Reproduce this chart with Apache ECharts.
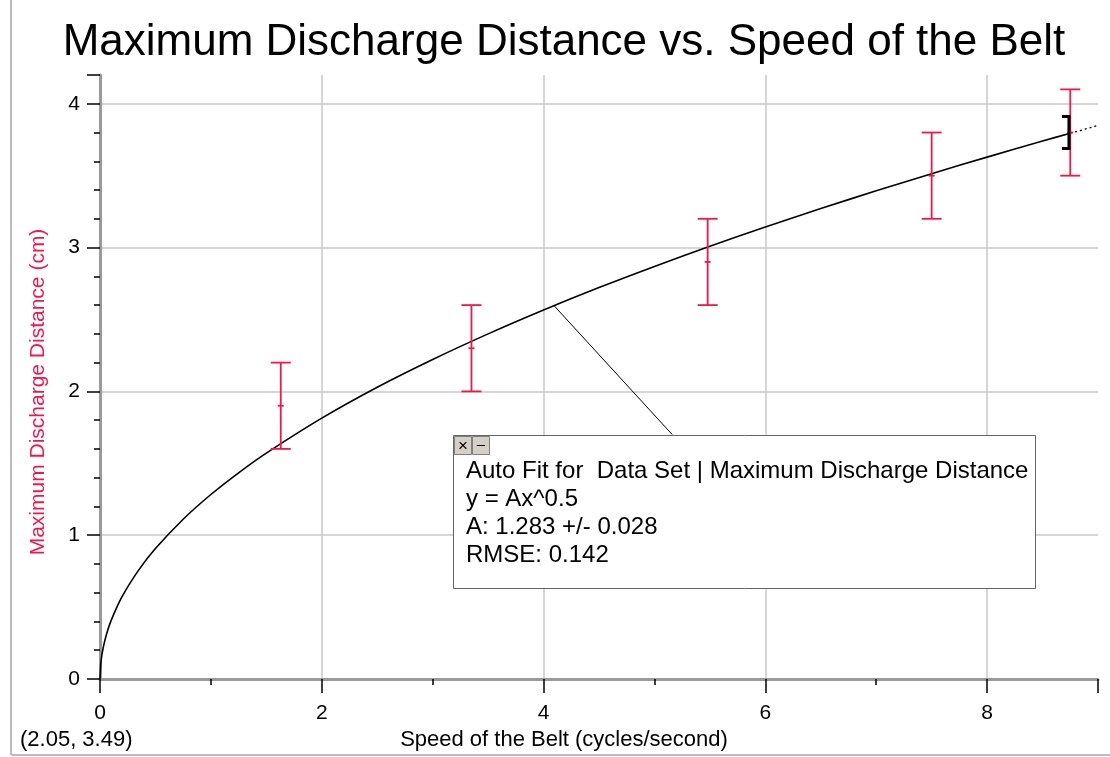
<!DOCTYPE html>
<html><head><meta charset="utf-8">
<script src="https://cdn.jsdelivr.net/npm/echarts@6/dist/echarts.min.js"></script>
<style>html,body{margin:0;padding:0;background:#fff}#c{width:1110px;height:757px}</style>
</head><body><div id="c"></div>
<script>
// Data
const speed = [1.63, 3.35, 5.48, 7.5, 8.75];
const distance = [1.9, 2.3, 2.9, 3.5, 3.8];
const errLow = [1.6, 2.0, 2.6, 3.2, 3.5];
const errHigh = [2.2, 2.6, 3.2, 3.8, 4.1];
// fitted curve (y = A x^0.5, A = 1.283)
const fitX = [0, 0.01, 0.03, 0.06, 0.1, 0.2, 0.35, 0.5, 0.75, 1, 1.25, 1.5, 2, 2.5, 3, 3.5, 4, 4.5, 5, 5.5, 6, 6.5, 7, 7.5, 8, 8.5, 8.75];
const fitY = [0, 0.128, 0.222, 0.314, 0.406, 0.574, 0.759, 0.907, 1.111, 1.283, 1.434, 1.571, 1.814, 2.029, 2.222, 2.400, 2.566, 2.722, 2.869, 3.009, 3.143, 3.271, 3.395, 3.514, 3.629, 3.741, 3.795];
const extX = [8.75, 9];
const extY = [3.795, 3.849];
const cursorPt = [8.72, 3.8];
const leaderX = [4.09, 5.16];
const leaderY = [2.6, 1.7];
const xTicks = [0, 2, 4, 6, 8];
const yTicks = [0, 1, 2, 3, 4];

const FONT = "'Liberation Sans', Arial, sans-serif";
const RED = '#f0174a';

const chart = echarts.init(document.getElementById('c'), null, {renderer: 'canvas'});
const zip = (a, b) => a.map((v, i) => [v, b[i]]);

chart.setOption({
  animation: false,
  backgroundColor: '#fff',
  grid: {left: 100, right: 12, top: 75, bottom: 78, containLabel: false},
  xAxis: {
    type: 'value', min: 0, max: 9, interval: 2,
    axisLine: {show: true, onZero: false, lineStyle: {color: '#999', width: 3}},
    axisTick: {show: true, length: 14, lineStyle: {color: '#000', width: 1.5}},
    minorTick: {show: true, splitNumber: 2, length: 6, lineStyle: {color: '#000', width: 1.5}},
    axisLabel: {fontFamily: FONT, fontSize: 21, color: '#000', margin: 24,
      formatter: v => xTicks.includes(v) ? String(v) : ''},
    splitLine: {show: true, showMinLine: false, showMaxLine: false, lineStyle: {color: '#c8c8c8', width: 1.5}}
  },
  yAxis: {
    type: 'value', min: 0, max: 4.2, interval: 1,
    axisLine: {show: true, onZero: false, lineStyle: {color: '#999', width: 3}},
    axisTick: {show: true, length: 13, lineStyle: {color: '#000', width: 1.5}},
    minorTick: {show: true, splitNumber: 5, length: 6, lineStyle: {color: '#000', width: 1.5}},
    axisLabel: {fontFamily: FONT, fontSize: 21, color: '#000', margin: 20,
      formatter: v => yTicks.includes(v) ? String(v) : ''},
    splitLine: {show: true, showMinLine: false, showMaxLine: false, lineStyle: {color: '#c8c8c8', width: 1.5}}
  },
  series: [
    {
      type: 'line', data: zip(fitX, fitY), smooth: 0.3, showSymbol: false, symbol: 'none',
      lineStyle: {color: '#000', width: 1.6}, z: 3
    },
    {
      type: 'line', data: zip(extX, extY), showSymbol: false, symbol: 'none',
      lineStyle: {color: '#000', width: 1.3, type: [2, 3]}, z: 3
    },
    {
      type: 'line', data: zip(leaderX, leaderY), showSymbol: false, symbol: 'none',
      lineStyle: {color: '#000', width: 1}, z: 3
    },
    {
      type: 'custom', z: 4,
      data: speed.map((x, i) => [x, distance[i], errLow[i], errHigh[i]]),
      renderItem: (params, api) => {
        const x = api.value(0);
        const c = api.coord([x, api.value(1)]);
        const lo = api.coord([x, api.value(2)]);
        const hi = api.coord([x, api.value(3)]);
        const st = {stroke: RED, lineWidth: 1.8};
        const cap = 10;
        return {type: 'group', children: [
          {type: 'line', shape: {x1: lo[0], y1: lo[1], x2: hi[0], y2: hi[1]}, style: st},
          {type: 'line', shape: {x1: lo[0] - cap, y1: lo[1], x2: lo[0] + cap, y2: lo[1]}, style: st},
          {type: 'line', shape: {x1: hi[0] - cap, y1: hi[1], x2: hi[0] + cap, y2: hi[1]}, style: st},
          {type: 'line', shape: {x1: c[0] - 3, y1: c[1], x2: c[0] + 3, y2: c[1]}, style: st}
        ]};
      }
    },
    {
      type: 'custom', z: 5,
      data: [cursorPt],
      renderItem: (params, api) => {
        const c = api.coord([api.value(0), api.value(1)]);
        const st = {stroke: '#000', lineWidth: 3};
        const h = 16;
        return {type: 'group', children: [
          {type: 'line', shape: {x1: c[0] + 2, y1: c[1] - h, x2: c[0] + 2, y2: c[1] + h}, style: st},
          {type: 'line', shape: {x1: c[0] - 5, y1: c[1] - h, x2: c[0] + 3.5, y2: c[1] - h}, style: st},
          {type: 'line', shape: {x1: c[0] - 5, y1: c[1] + h, x2: c[0] + 3.5, y2: c[1] + h}, style: st}
        ]};
      }
    }
  ],
  graphic: [
    {type: 'text', z: 102, x: 564, y: 43, style: {text: 'Maximum Discharge Distance vs. Speed of the Belt', fontFamily: FONT, fontSize: 44, fill: '#000', align: 'center', verticalAlign: 'middle'}},
    {type: 'text', z: 102, x: 38, y: 392, rotation: Math.PI / 2, style: {text: 'Maximum Discharge Distance (cm)', fontFamily: FONT, fontSize: 21, fill: RED, align: 'center', verticalAlign: 'middle'}},
    {type: 'line', z: 100, shape: {x1: 11, y1: 0, x2: 11, y2: 755}, style: {stroke: '#bbb', lineWidth: 2}},
    {type: 'line', z: 100, shape: {x1: 11, y1: 755, x2: 1110, y2: 755}, style: {stroke: '#bbb', lineWidth: 2}},
    {type: 'rect', z: 100, shape: {x: 453.5, y: 435.5, width: 582, height: 153},
      style: {fill: '#fff', stroke: '#666', lineWidth: 1}},
    {type: 'rect', z: 101, shape: {x: 454.5, y: 436.5, width: 17, height: 18},
      style: {fill: '#d4d0c8', stroke: '#808080', lineWidth: 1}},
    {type: 'rect', z: 101, shape: {x: 472.5, y: 436.5, width: 17, height: 18},
      style: {fill: '#d4d0c8', stroke: '#808080', lineWidth: 1}},
    {type: 'text', z: 102, x: 463, y: 446, style: {text: '×', fontFamily: FONT, fontSize: 17, fill: '#000', align: 'center', verticalAlign: 'middle'}},
    {type: 'text', z: 102, x: 481, y: 445, style: {text: '–', fontFamily: FONT, fontSize: 15, fill: '#000', align: 'center', verticalAlign: 'middle'}},
    {type: 'text', z: 102, x: 466, y: 471, style: {text: 'Auto Fit for  Data Set | Maximum Discharge Distance', fontFamily: FONT, fontSize: 24, fill: '#000', verticalAlign: 'middle'}},
    {type: 'text', z: 102, x: 466, y: 499, style: {text: 'y = Ax^0.5', fontFamily: FONT, fontSize: 24, fill: '#000', verticalAlign: 'middle'}},
    {type: 'text', z: 102, x: 466, y: 527, style: {text: 'A: 1.283 +/- 0.028', fontFamily: FONT, fontSize: 24, fill: '#000', verticalAlign: 'middle'}},
    {type: 'text', z: 102, x: 466, y: 555, style: {text: 'RMSE: 0.142', fontFamily: FONT, fontSize: 24, fill: '#000', verticalAlign: 'middle'}},
    {type: 'text', z: 102, x: 20, y: 740, style: {text: '(2.05, 3.49)', fontFamily: FONT, fontSize: 22, fill: '#000', verticalAlign: 'middle'}},
    {type: 'text', z: 102, x: 564, y: 740, style: {text: 'Speed of the Belt (cycles/second)', fontFamily: FONT, fontSize: 22, fill: '#000', align: 'center', verticalAlign: 'middle'}}
  ]
});
</script>
</body></html>
